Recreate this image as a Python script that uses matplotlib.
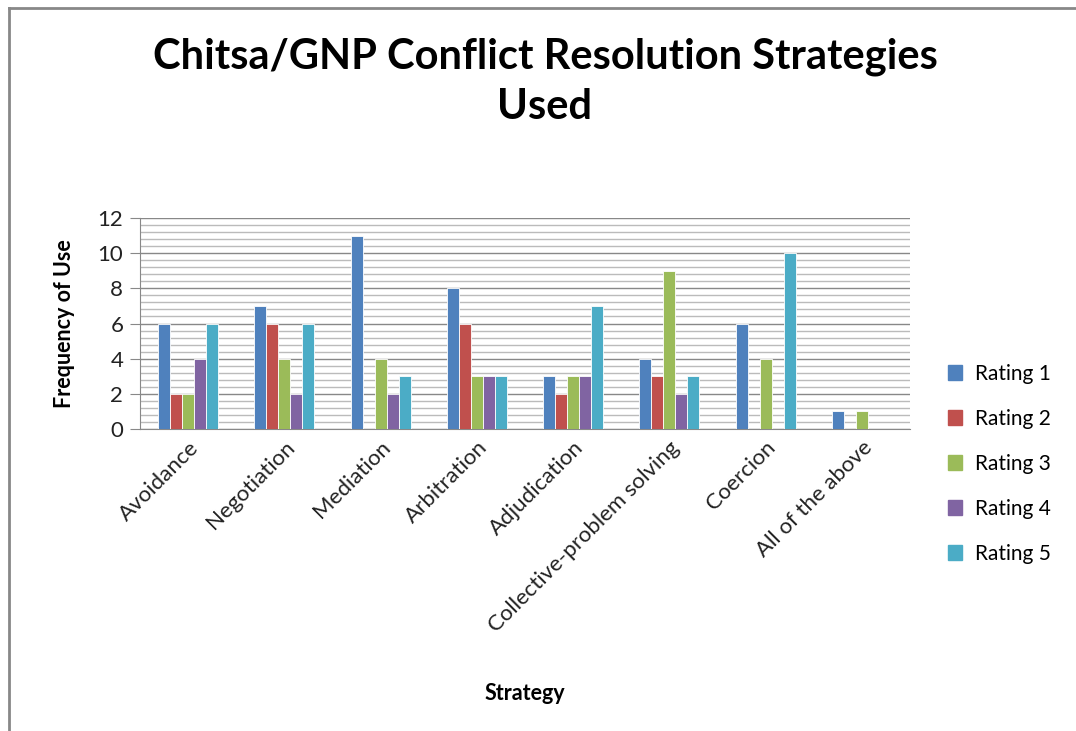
import matplotlib
matplotlib.use("Agg")
import matplotlib.pyplot as plt
import numpy as np
from matplotlib.lines import Line2D
from matplotlib.ticker import MultipleLocator

categories = ["Avoidance", "Negotiation", "Mediation", "Arbitration", "Adjudication",
              "Collective-problem solving", "Coercion", "All of the above"]
series_names = ["Rating 1", "Rating 2", "Rating 3", "Rating 4", "Rating 5"]
rating1 = [6, 7, 11, 8, 3, 4, 6, 1]
rating2 = [2, 6, 0, 6, 2, 3, 0, 0]
rating3 = [2, 4, 4, 3, 3, 9, 4, 1]
rating4 = [4, 2, 2, 3, 3, 2, 0, 0]
rating5 = [6, 6, 3, 3, 7, 3, 10, 0]
colors = ["#4F81BD", "#C0504D", "#9BBB59", "#8064A2", "#4BACC6"]

plt.rcParams['font.family'] = ['Lato', 'DejaVu Sans']

fig = plt.figure(figsize=(10.76, 7.31), dpi=100)
ax = fig.add_axes([140/1076, 1-429/731, 770/1076, 211/731])

x = np.arange(len(categories))
w = 0.125
data = [rating1, rating2, rating3, rating4, rating5]
for i, (vals, c, name) in enumerate(zip(data, colors, series_names)):
    ax.bar(x + (i - 2) * w, vals, width=w, color=c, edgecolor="white", linewidth=0.6,
           label=name, zorder=3)

ax.set_xlim(-0.5, len(categories) - 0.5)
ax.set_ylim(0, 12)
ax.yaxis.set_major_locator(MultipleLocator(2))
ax.yaxis.set_minor_locator(MultipleLocator(0.4))
ax.grid(which="major", axis="y", color="#888888", linewidth=1.0, zorder=0)
ax.grid(which="minor", axis="y", color="#BBBBBB", linewidth=1.0, zorder=0)
for s in ["top", "right"]:
    ax.spines[s].set_visible(False)
ax.spines["left"].set_color("#888888")
ax.spines["bottom"].set_color("#888888")
ax.tick_params(axis="y", which="major", length=7, color="#888888", labelsize=16, pad=5,
               labelcolor="#222222")
ax.tick_params(axis="y", which="minor", length=0)
ax.tick_params(axis="x", length=0, labelsize=16, pad=6, labelcolor="#222222")
ax.set_xticks(x)
ax.set_xticklabels(categories, rotation=45, ha="right", va="top", rotation_mode="anchor")
ax.set_yticks(np.arange(0, 13, 2))

ax.set_ylabel("Frequency of Use", fontsize=15.5, fontweight="bold", labelpad=16)
fig.text(525/1076, 1-693/731, "Strategy", fontsize=15.5, fontweight="bold", ha="center", va="center")

fig.text(545/1076, 1-82/731, "Chitsa/GNP Conflict Resolution Strategies\nUsed",
         fontsize=30, fontweight="bold", ha="center", va="center", linespacing=1.4)

handles = [plt.Rectangle((0, 0), 1, 1, color=c) for c in colors]
fig.legend(handles, series_names, loc="center left", bbox_to_anchor=(929/1076, 1-464/731),
           frameon=False, fontsize=15, handlelength=0.7, handleheight=0.7,
           labelspacing=1.2, handletextpad=0.6)

fig.add_artist(Line2D([9/1076, 9/1076], [0, 1-8/731], color="#888888", linewidth=2))
fig.add_artist(Line2D([9/1076, 1], [1-8/731, 1-8/731], color="#888888", linewidth=2))

fig.savefig("out.png", dpi=100)
